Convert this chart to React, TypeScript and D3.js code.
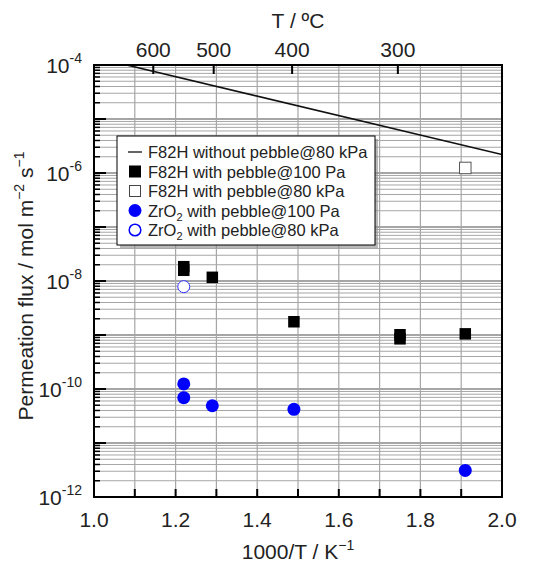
import React from "react";
import * as d3 from "d3";

// F82H without pebble @ 80 kPa (Arrhenius line)
const lineX = [1.08, 2.0];
const lineY = [1.0e-4, 2.2e-6];

// F82H with pebble @ 100 Pa
const f82h100X = [1.22, 1.22, 1.29, 1.49, 1.75, 1.75, 1.91];
const f82h100Y = [1.84e-8, 1.58e-8, 1.17e-8, 1.76e-9, 1.01e-9, 8.5e-10, 1.05e-9];

// F82H with pebble @ 80 kPa
const f82h80X = [1.91];
const f82h80Y = [1.24e-6];

// ZrO2 with pebble @ 100 Pa
const zro100X = [1.22, 1.22, 1.29, 1.49, 1.91];
const zro100Y = [1.24e-10, 6.9e-11, 4.9e-11, 4.2e-11, 3.1e-12];

// ZrO2 with pebble @ 80 kPa
const zro80X = [1.22];
const zro80Y = [7.85e-9];

const xTicks = [1.0, 1.1, 1.2, 1.3, 1.4, 1.5, 1.6, 1.7, 1.8, 1.9, 2.0];
const xLabels = [1.0, 1.2, 1.4, 1.6, 1.8, 2.0];
const celsiusTicks = [600, 500, 400, 300];
const decades = [-12, -11, -10, -9, -8, -7, -6, -5, -4];
const labelDecades = [-12, -10, -8, -6, -4];

const font = "'Liberation Sans', Arial, sans-serif";

export default function App() {
  const W = 533, H = 562;
  const m = { left: 94, right: 31, top: 65, bottom: 65 };
  const x = d3.scaleLinear().domain([1.0, 2.0]).range([m.left, W - m.right]);
  const y = d3.scaleLog().domain([1e-12, 1e-4]).range([H - m.bottom, m.top]);

  const minor: number[] = [];
  decades.slice(0, -1).forEach((e) => {
    for (let k = 2; k <= 9; k++) minor.push(k * Math.pow(10, e));
  });

  const line = d3.line<number>()
    .x((d) => x(lineX[d]))
    .y((d) => y(lineY[d]));

  const x0 = x(1.0), x1 = x(2.0), y0 = y(1e-12), y1 = y(1e-4);
  const sq = 11.5, r = 6.5;

  const legend = [
    { kind: "line", text: "F82H without pebble@80 kPa" },
    { kind: "fsq", text: "F82H with pebble@100 Pa" },
    { kind: "osq", text: "F82H with pebble@80 kPa" },
    { kind: "fci", text: "ZrO", sub: "2", rest: " with pebble@100 Pa" },
    { kind: "oci", text: "ZrO", sub: "2", rest: " with pebble@80 kPa" },
  ];
  const lx = 117, ly = 136, lw = 258, lh = 109;

  return (
    <div style={{ position: "absolute", left: 0, top: 0 }}>
      <svg width={W} height={H} style={{ display: "block", background: "#fff" }} fontFamily={font}>
        <defs>
          <clipPath id="plot">
            <rect x={x0} y={y1} width={x1 - x0} height={y0 - y1} />
          </clipPath>
        </defs>
        {/* grid */}
        {minor.map((v, i) => (
          <line key={"gm" + i} x1={x0} x2={x1} y1={y(v)} y2={y(v)} stroke="#a6a6a6" strokeWidth={1} />
        ))}
        {decades.map((e) => (
          <line key={"gd" + e} x1={x0} x2={x1} y1={y(Math.pow(10, e))} y2={y(Math.pow(10, e))} stroke="#a6a6a6" strokeWidth={2} />
        ))}
        {xTicks.map((t) => (
          <line key={"gx" + t} x1={x(t)} x2={x(t)} y1={y1} y2={y0} stroke="#a6a6a6" strokeWidth={1.2} />
        ))}

        {/* ticks */}
        {xTicks.map((t) => (
          <line key={"tx" + t} x1={x(t)} x2={x(t)} y1={y0} y2={y0 - 8} stroke="#000" strokeWidth={2} />
        ))}
        {celsiusTicks.map((c) => (
          <line key={"tc" + c} x1={x(1000 / (c + 273.15))} x2={x(1000 / (c + 273.15))} y1={y1} y2={y1 + 9} stroke="#000" strokeWidth={2} />
        ))}
        {minor.map((v, i) => (
          <line key={"tm" + i} x1={x0} x2={x0 + 6} y1={y(v)} y2={y(v)} stroke="#000" strokeWidth={1.5} />
        ))}
        {decades.map((e) => (
          <line key={"td" + e} x1={x0} x2={x0 + 12} y1={y(Math.pow(10, e))} y2={y(Math.pow(10, e))} stroke="#000" strokeWidth={2} />
        ))}

        {/* line */}
        <path d={line([0, 1]) || ""} fill="none" stroke="#111" strokeWidth={1.6} clipPath="url(#plot)" />

        {/* markers */}
        {f82h100X.map((v, i) => (
          <rect key={"fs" + i} x={x(v) - sq / 2} y={y(f82h100Y[i]) - sq / 2} width={sq} height={sq} fill="#000" />
        ))}
        {f82h80X.map((v, i) => (
          <rect key={"os" + i} x={x(v) - sq / 2} y={y(f82h80Y[i]) - sq / 2} width={sq} height={sq} fill="#fff" stroke="#555" strokeWidth={1} />
        ))}
        {zro100X.map((v, i) => (
          <circle key={"fc" + i} cx={x(v)} cy={y(zro100Y[i])} r={r} fill="#0000ff" />
        ))}
        {zro80X.map((v, i) => (
          <circle key={"oc" + i} cx={x(v)} cy={y(zro80Y[i])} r={r - 0.5} fill="#fff" stroke="#3333ff" strokeWidth={1} />
        ))}

        {/* frame */}
        <rect x={x0} y={y1} width={x1 - x0} height={y0 - y1} fill="none" stroke="#000" strokeWidth={2} />

        {/* legend */}
        <rect x={lx + 3} y={ly + 3} width={lw} height={lh} fill="#8a8a8a" opacity={0.6} />
        <rect x={lx} y={ly} width={lw} height={lh} fill="#fff" stroke="#000" strokeWidth={1} />
        {legend.map((it, i) => {
          const cy = ly + 16 + i * 19.5;
          const sx = lx + 18;
          return (
            <g key={"lg" + i}>
              {it.kind === "line" && <line x1={sx - 7} x2={sx + 7} y1={cy} y2={cy} stroke="#111" strokeWidth={1.3} />}
              {it.kind === "fsq" && <rect x={sx - 6} y={cy - 6} width={12} height={12} fill="#000" />}
              {it.kind === "osq" && <rect x={sx - 5.5} y={cy - 5.5} width={11} height={11} fill="#fff" stroke="#444" strokeWidth={1} />}
              {it.kind === "fci" && <circle cx={sx} cy={cy} r={6.5} fill="#0000ff" />}
              {it.kind === "oci" && <circle cx={sx} cy={cy} r={5.8} fill="#fff" stroke="#0000ff" strokeWidth={1.5} />}
              <text x={lx + 31} y={cy + 6} fontSize={16.5} fill="#222">
                {it.text}
                {it.sub && <tspan fontSize={11} dy={4}>{it.sub}</tspan>}
                {it.rest && <tspan dy={-4}>{it.rest}</tspan>}
              </text>
            </g>
          );
        })}

        {/* bottom tick labels */}
        {xLabels.map((t) => (
          <text key={"lx" + t} x={x(t)} y={527} textAnchor="middle" fontSize={21} fill="#222">
            {t.toFixed(1)}
          </text>
        ))}
        {/* top tick labels */}
        {celsiusTicks.map((c) => (
          <text key={"lc" + c} x={x(1000 / (c + 273.15))} y={57} textAnchor="middle" fontSize={21} fill="#222">
            {c}
          </text>
        ))}
        {/* left tick labels */}
        {labelDecades.map((e) => (
          <text key={"ly" + e} x={82} y={y(Math.pow(10, e)) + 8} textAnchor="end" fontSize={21} fill="#222">
            10<tspan fontSize={14} dy={-10}>{String(e)}</tspan>
          </text>
        ))}

        {/* axis titles */}
        <text x={(x0 + x1) / 2} y={28} textAnchor="middle" fontSize={21} fill="#222">T / ºC</text>
        <text x={(x0 + x1) / 2} y={559} textAnchor="middle" fontSize={21} fill="#222">
          1000/T / K<tspan fontSize={14} dy={-9}>−1</tspan>
        </text>
        <text transform={`translate(33,${(y0 + y1) / 2 + 5}) rotate(-90)`} textAnchor="middle" fontSize={21} fill="#222">
          Permeation flux / mol m<tspan fontSize={14} dy={-9}>−2</tspan>
          <tspan dy={9}> s</tspan>
          <tspan fontSize={14} dy={-9}>−1</tspan>
        </text>
      </svg>
    </div>
  );
}
